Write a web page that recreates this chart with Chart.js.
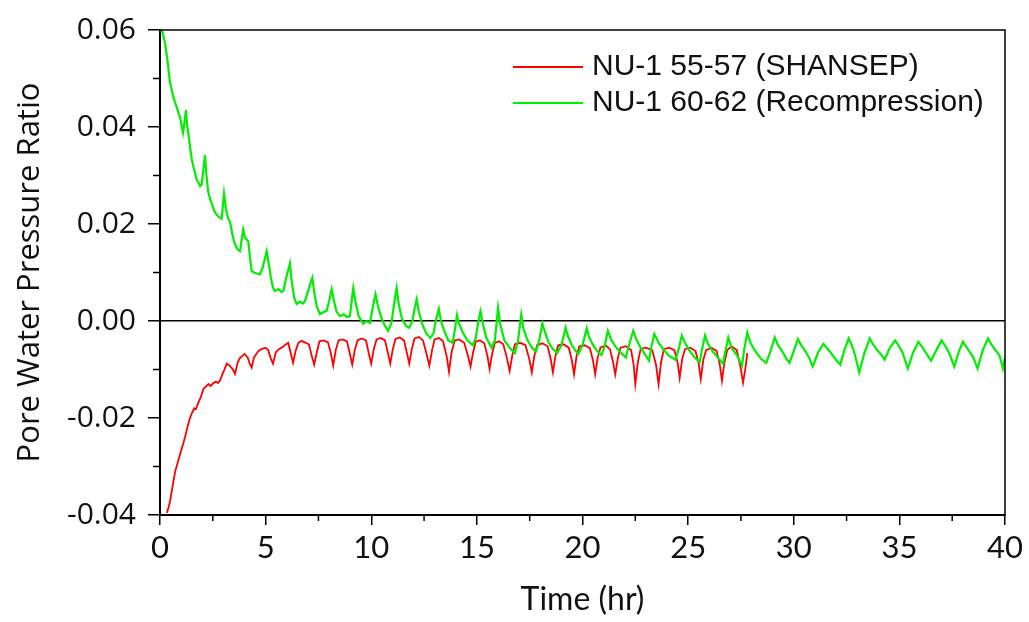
<!DOCTYPE html>
<html>
<head>
<meta charset="utf-8">
<script src="https://cdn.jsdelivr.net/npm/chart.js@4.4.1/dist/chart.umd.min.js"></script>
<style>
  html, body { margin: 0; padding: 0; background: #fff; }
</style>
</head>
<body>
<canvas id="myChart" width="1029" height="622"></canvas>
<script>
// NU-1 55-57 (SHANSEP)
const timeRed = [
  0.32, 0.40, 0.47, 0.60, 0.72, 0.87, 0.98, 1.10, 1.18, 1.26, 1.38, 1.50, 1.62, 1.70, 1.80, 1.95,
  2.05, 2.13, 2.30, 2.40, 2.50, 2.65, 2.75, 2.84, 2.95, 3.05, 3.16, 3.30, 3.45, 3.55, 3.68, 3.79,
  3.90, 4.00, 4.15, 4.25, 4.34, 4.45, 4.65, 4.80, 5.00, 5.12, 5.25, 5.35, 5.48, 5.62, 5.76, 5.90,
  6.07, 6.18, 6.30, 6.42, 6.55, 6.70, 6.90, 7.05, 7.20, 7.30, 7.42, 7.55, 7.75, 7.95, 8.08, 8.20,
  8.32, 8.45, 8.65, 8.85, 9.00, 9.10, 9.22, 9.35, 9.55, 9.75, 9.90, 10.00, 10.12, 10.25, 10.45, 10.65,
  10.80, 10.90, 11.02, 11.15, 11.35, 11.55, 11.70, 11.80, 11.92, 12.05, 12.25, 12.45, 12.62, 12.75, 12.88, 13.00,
  13.20, 13.40, 13.58, 13.68, 13.80, 13.95, 14.15, 14.40, 14.58, 14.70, 14.82, 14.95, 15.15, 15.35, 15.50, 15.60,
  15.72, 15.85, 16.05, 16.25, 16.42, 16.55, 16.68, 16.80, 17.05, 17.30, 17.48, 17.60, 17.72, 17.85, 18.10, 18.35,
  18.50, 18.60, 18.72, 18.85, 19.10, 19.35, 19.50, 19.60, 19.72, 19.85, 20.10, 20.35, 20.50, 20.60, 20.72, 20.85,
  21.10, 21.30, 21.45, 21.55, 21.68, 21.80, 22.05, 22.30, 22.42, 22.50, 22.62, 22.75, 23.00, 23.30, 23.48, 23.60,
  23.72, 23.85, 24.10, 24.35, 24.50, 24.60, 24.72, 24.85, 25.10, 25.35, 25.50, 25.60, 25.72, 25.85, 26.10, 26.35,
  26.50, 26.60, 26.72, 26.85, 27.05, 27.30, 27.48, 27.60, 27.72, 27.80
];
const ratioRed = [
  -0.0396, -0.0385, -0.0373, -0.0340, -0.0310, -0.0287, -0.0270, -0.0253, -0.0240, -0.0226, -0.0205, -0.0191, -0.0180, -0.0182, -0.0170, -0.0155,
  -0.0140, -0.0137, -0.0130, -0.0134, -0.0129, -0.0125, -0.0128, -0.0123, -0.0110, -0.0100, -0.0088, -0.0092, -0.0100, -0.0109, -0.0085, -0.0076,
  -0.0072, -0.0068, -0.0075, -0.0088, -0.0096, -0.0075, -0.0062, -0.0058, -0.0055, -0.0060, -0.0078, -0.0088, -0.0065, -0.0058, -0.0055, -0.0050,
  -0.0045, -0.0065, -0.0086, -0.0062, -0.0045, -0.0041, -0.0045, -0.0048, -0.0075, -0.0090, -0.0065, -0.0042, -0.0040, -0.0044, -0.0065, -0.0092,
  -0.0060, -0.0040, -0.0038, -0.0042, -0.0070, -0.0090, -0.0060, -0.0040, -0.0036, -0.0040, -0.0070, -0.0088, -0.0058, -0.0038, -0.0035, -0.0040,
  -0.0068, -0.0088, -0.0058, -0.0037, -0.0034, -0.0040, -0.0068, -0.0088, -0.0058, -0.0036, -0.0033, -0.0040, -0.0068, -0.0092, -0.0060, -0.0038,
  -0.0035, -0.0042, -0.0075, -0.0105, -0.0065, -0.0040, -0.0038, -0.0045, -0.0072, -0.0094, -0.0065, -0.0042, -0.0040, -0.0046, -0.0072, -0.0099,
  -0.0068, -0.0045, -0.0042, -0.0048, -0.0076, -0.0103, -0.0070, -0.0048, -0.0045, -0.0050, -0.0078, -0.0106, -0.0072, -0.0050, -0.0046, -0.0052,
  -0.0080, -0.0106, -0.0072, -0.0050, -0.0048, -0.0055, -0.0082, -0.0110, -0.0072, -0.0052, -0.0050, -0.0056, -0.0082, -0.0110, -0.0075, -0.0055,
  -0.0050, -0.0058, -0.0085, -0.0110, -0.0075, -0.0055, -0.0052, -0.0060, -0.0090, -0.0130, -0.0085, -0.0058, -0.0055, -0.0060, -0.0090, -0.0130,
  -0.0085, -0.0058, -0.0055, -0.0060, -0.0085, -0.0117, -0.0078, -0.0058, -0.0055, -0.0062, -0.0088, -0.0120, -0.0080, -0.0060, -0.0055, -0.0062,
  -0.0090, -0.0123, -0.0085, -0.0060, -0.0052, -0.0060, -0.0095, -0.0127, -0.0095, -0.0066
];

// NU-1 60-62 (Recompression)
const timeGreen = [
  0.00, 0.08, 0.16, 0.25, 0.32, 0.40, 0.47, 0.55, 0.63, 0.71, 0.80, 0.88, 0.95, 1.03, 1.09, 1.16,
  1.23, 1.28, 1.34, 1.42, 1.50, 1.58, 1.66, 1.74, 1.81, 1.90, 1.97, 2.05, 2.13, 2.20, 2.28, 2.38,
  2.48, 2.58, 2.68, 2.80, 2.92, 2.98, 3.03, 3.12, 3.22, 3.31, 3.42, 3.52, 3.63, 3.72, 3.79, 3.87,
  3.94, 4.02, 4.10, 4.18, 4.26, 4.34, 4.45, 4.58, 4.73, 4.86, 4.96, 5.05, 5.14, 5.24, 5.34, 5.44,
  5.60, 5.75, 5.84, 5.98, 6.07, 6.15, 6.24, 6.35, 6.47, 6.62, 6.76, 6.86, 7.00, 7.10, 7.21, 7.30,
  7.42, 7.57, 7.72, 7.89, 8.00, 8.13, 8.22, 8.35, 8.52, 8.70, 8.85, 8.99, 9.07, 9.15, 9.25, 9.40,
  9.62, 9.78, 9.94, 10.08, 10.20, 10.32, 10.50, 10.65, 10.80, 10.95, 11.10, 11.20, 11.30, 11.45, 11.65, 11.80,
  11.95, 12.05, 12.15, 12.25, 12.40, 12.60, 12.80, 12.95, 13.05, 13.20, 13.30, 13.45, 13.65, 13.85, 13.95, 14.06,
  14.15, 14.35, 14.55, 14.80, 14.95, 15.05, 15.17, 15.28, 15.45, 15.70, 15.85, 15.92, 16.00, 16.10, 16.30, 16.55,
  16.80, 16.95, 17.10, 17.20, 17.40, 17.60, 17.80, 17.95, 18.10, 18.20, 18.40, 18.60, 18.80, 19.00, 19.20, 19.30,
  19.50, 19.65, 19.80, 20.00, 20.20, 20.30, 20.50, 20.70, 20.90, 21.05, 21.20, 21.35, 21.55, 21.80, 22.05, 22.20,
  22.40, 22.55, 22.75, 22.95, 23.15, 23.25, 23.40, 23.60, 23.85, 24.10, 24.40, 24.55, 24.70, 24.85, 25.05, 25.30,
  25.55, 25.65, 25.80, 25.95, 26.15, 26.40, 26.65, 26.75, 26.90, 27.05, 27.30, 27.55, 27.65, 27.80, 27.95, 28.15,
  28.45, 28.70, 28.90, 29.10, 29.25, 29.45, 29.65, 29.80, 30.00, 30.20, 30.35, 30.55, 30.75, 30.90, 31.15, 31.40,
  31.55, 31.75, 32.00, 32.20, 32.40, 32.60, 32.75, 32.90, 33.10, 33.35, 33.60, 33.75, 33.95, 34.15, 34.30, 34.55,
  34.80, 34.95, 35.15, 35.40, 35.65, 35.90, 36.05, 36.25, 36.50, 36.75, 37.00, 37.15, 37.35, 37.60, 37.80, 38.00,
  38.15, 38.35, 38.50, 38.70, 38.95, 39.20, 39.35, 39.55, 39.75, 39.90, 40.00
];
const ratioGreen = [
  0.0595, 0.0602, 0.0588, 0.0570, 0.0548, 0.0520, 0.0492, 0.0478, 0.0462, 0.0451, 0.0440, 0.0428, 0.0420, 0.0400, 0.0388, 0.0410,
  0.0435, 0.0405, 0.0388, 0.0360, 0.0334, 0.0318, 0.0305, 0.0290, 0.0287, 0.0278, 0.0281, 0.0310, 0.0342, 0.0300, 0.0267, 0.0250,
  0.0238, 0.0226, 0.0219, 0.0214, 0.0211, 0.0240, 0.0263, 0.0232, 0.0212, 0.0205, 0.0180, 0.0162, 0.0150, 0.0146, 0.0144, 0.0170,
  0.0189, 0.0172, 0.0168, 0.0164, 0.0130, 0.0103, 0.0100, 0.0098, 0.0096, 0.0110, 0.0128, 0.0144, 0.0120, 0.0092, 0.0070, 0.0062,
  0.0066, 0.0060, 0.0062, 0.0090, 0.0105, 0.0119, 0.0080, 0.0048, 0.0035, 0.0040, 0.0036, 0.0041, 0.0060, 0.0075, 0.0089, 0.0060,
  0.0030, 0.0014, 0.0018, 0.0021, 0.0040, 0.0066, 0.0045, 0.0020, 0.0010, 0.0014, 0.0008, 0.0010, 0.0040, 0.0068, 0.0040, 0.0010,
  -0.0006, 0.0000, -0.0004, 0.0030, 0.0055, 0.0030, 0.0004, -0.0010, -0.0020, -0.0005, 0.0040, 0.0068, 0.0035, 0.0005, -0.0010, -0.0014,
  0.0000, 0.0025, 0.0045, 0.0020, -0.0005, -0.0025, -0.0035, -0.0025, 0.0000, 0.0025, 0.0000, -0.0020, -0.0040, -0.0045, -0.0020, 0.0012,
  -0.0005, -0.0025, -0.0040, -0.0050, -0.0035, -0.0005, 0.0020, -0.0005, -0.0035, -0.0055, -0.0040, -0.0010, 0.0027, -0.0005, -0.0040, -0.0055,
  -0.0066, -0.0040, 0.0013, -0.0015, -0.0040, -0.0055, -0.0063, -0.0040, -0.0005, -0.0020, -0.0045, -0.0058, -0.0066, -0.0050, -0.0014, -0.0030,
  -0.0050, -0.0060, -0.0068, -0.0050, -0.0015, -0.0032, -0.0050, -0.0062, -0.0070, -0.0052, -0.0020, -0.0038, -0.0052, -0.0065, -0.0075, -0.0050,
  -0.0020, -0.0038, -0.0055, -0.0068, -0.0082, -0.0055, -0.0027, -0.0045, -0.0060, -0.0072, -0.0080, -0.0058, -0.0030, -0.0045, -0.0060, -0.0075,
  -0.0085, -0.0060, -0.0030, -0.0048, -0.0062, -0.0075, -0.0088, -0.0065, -0.0034, -0.0055, -0.0070, -0.0092, -0.0060, -0.0024, -0.0045, -0.0060,
  -0.0078, -0.0086, -0.0062, -0.0034, -0.0050, -0.0062, -0.0078, -0.0086, -0.0062, -0.0037, -0.0050, -0.0062, -0.0078, -0.0094, -0.0065, -0.0047,
  -0.0055, -0.0065, -0.0080, -0.0090, -0.0060, -0.0036, -0.0050, -0.0070, -0.0106, -0.0065, -0.0036, -0.0048, -0.0060, -0.0070, -0.0080, -0.0055,
  -0.0040, -0.0050, -0.0065, -0.0098, -0.0065, -0.0043, -0.0052, -0.0065, -0.0082, -0.0060, -0.0040, -0.0050, -0.0065, -0.0094, -0.0065, -0.0043,
  -0.0052, -0.0065, -0.0075, -0.0098, -0.0060, -0.0036, -0.0048, -0.0060, -0.0072, -0.0098, -0.0076
];

const seriesLabels = ['NU-1 55-57 (SHANSEP)', 'NU-1 60-62 (Recompression)'];
const seriesColors = ['#ff0000', '#00ee00'];

const toPoints = (xs, ys) => xs.map((x, i) => ({ x: x, y: ys[i] }));
const clear = 'rgba(0,0,0,0)';
const isMajorY = v => Math.round(v * 100) % 2 === 0;
const isMajorX = v => Math.abs(v % 5) < 1e-6;

// short minor ticks, top/right frame and the legend inside the plot
const extras = {
  id: 'extras',
  afterDraw(chart) {
    const { ctx, chartArea: a, scales } = chart;
    ctx.save();
    ctx.strokeStyle = '#000';
    ctx.lineWidth = 1.5;
    ctx.beginPath();
    scales.x.ticks.forEach(t => {
      if (isMajorX(t.value)) return;
      const px = scales.x.getPixelForValue(t.value);
      ctx.moveTo(px, a.bottom); ctx.lineTo(px, a.bottom + 6);
    });
    scales.y.ticks.forEach(t => {
      if (isMajorY(t.value)) return;
      const py = scales.y.getPixelForValue(t.value);
      ctx.moveTo(a.left - 7, py); ctx.lineTo(a.left, py);
    });
    ctx.stroke();
    ctx.lineWidth = 1.5;
    ctx.strokeRect(a.left, a.top, a.right - a.left, a.bottom - a.top);

    ctx.font = '30px "Liberation Sans", Arial, sans-serif';
    ctx.textBaseline = 'middle';
    ctx.fillStyle = '#111';
    chart.data.datasets.forEach((ds, i) => {
      const y = a.top + 37 + i * 36;
      const x0 = a.right - 492;
      ctx.strokeStyle = ds.borderColor;
      ctx.lineWidth = 2;
      ctx.beginPath(); ctx.moveTo(x0, y); ctx.lineTo(x0 + 70, y); ctx.stroke();
      ctx.fillText(ds.label, x0 + 79, y);
    });
    ctx.restore();
  }
};

const ctx = document.getElementById('myChart').getContext('2d');
const myChart = new Chart(ctx, {
  type: 'line',
  data: {
    datasets: [{
      label: seriesLabels[0],
      data: toPoints(timeRed, ratioRed),
      borderColor: seriesColors[0],
      borderWidth: 1.8,
      pointRadius: 0,
      order: 1
    }, {
      label: seriesLabels[1],
      data: toPoints(timeGreen, ratioGreen),
      borderColor: seriesColors[1],
      borderWidth: 2.2,
      pointRadius: 0,
      order: 0
    }]
  },
  options: {
    responsive: false,
    animation: false,
    layout: { padding: { left: 0, right: 24, top: 27, bottom: 0 } },
    plugins: { legend: { display: false }, tooltip: { enabled: false } },
    scales: {
      x: {
        type: 'linear',
        min: 0, max: 40,
        afterFit: s => { s.height = 107; },
        ticks: {
          stepSize: 2.5, autoSkip: false, maxRotation: 0, padding: 4, color: '#111',
          font: { family: 'Lato', size: 31 },
          callback: v => isMajorX(v) ? String(v) : ''
        },
        grid: {
          drawOnChartArea: false, tickLength: 10, lineWidth: 1.5,
          tickColor: c => isMajorX(c.tick.value) ? '#000' : clear
        },
        border: { display: true, color: '#000', width: 2 },
        title: {
          display: true, text: 'Time (hr)', color: '#111',
          font: { family: 'Lato', size: 32 }, padding: { top: 0, bottom: 3 }
        }
      },
      y: {
        min: -0.04, max: 0.06,
        afterFit: s => { s.width = 160; },
        ticks: {
          stepSize: 0.01, autoSkip: false, padding: 12, color: '#111',
          font: { family: 'Open Sans', size: 30 },
          callback: v => isMajorY(v) ? v.toFixed(2) : ''
        },
        grid: {
          drawOnChartArea: true, tickLength: 12, lineWidth: 1.5,
          color: c => Math.abs(c.tick.value) < 1e-9 ? '#000' : clear,
          tickColor: c => isMajorY(c.tick.value) ? '#000' : clear
        },
        border: { display: true, color: '#000', width: 2 },
        title: {
          display: true, text: 'Pore Water Pressure Ratio', color: '#111',
          font: { family: 'Open Sans', size: 31 }, padding: { top: 12, bottom: 0 }
        }
      }
    }
  },
  plugins: [extras]
});
</script>
</body>
</html>
